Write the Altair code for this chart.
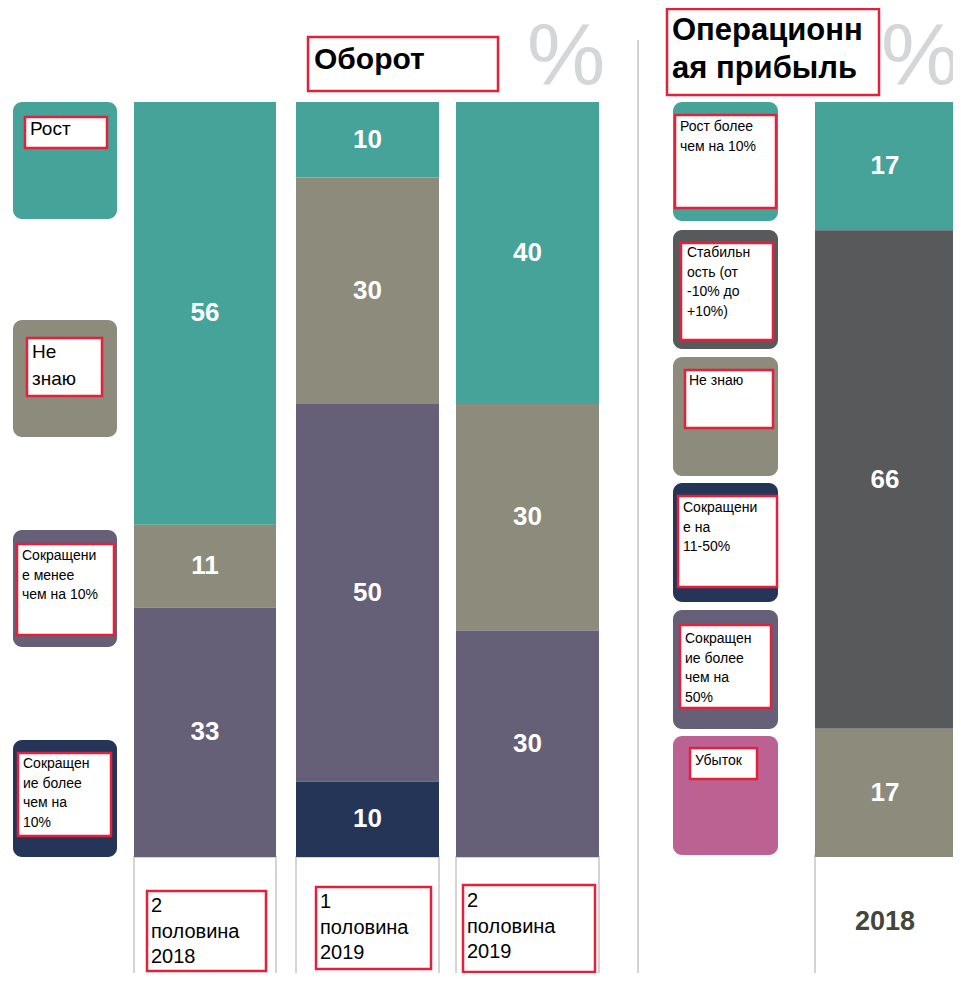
import altair as alt
import pandas as pd

# ---------------- data ----------------
turnover_periods = ["2\nполовина\n2018", "1\nполовина\n2019", "2\nполовина\n2019"]
turnover_categories = ["Рост", "Не знаю", "Сокращение менее чем на 10%", "Сокращение более чем на 10%"]
turnover_legend_text = ["Рост", "Не\nзнаю", "Сокращени\nе менее\nчем на 10%", "Сокращен\nие более\nчем на\n10%"]
turnover_growth = [56, 10, 40]
turnover_dont_know = [11, 30, 30]
turnover_down_small = [33, 50, 30]
turnover_down_big = [0, 10, 0]

profit_periods = ["2018"]
profit_categories = ["Рост более чем на 10%", "Стабильность (от -10% до +10%)", "Не знаю",
                     "Сокращение на 11-50%", "Сокращение более чем на 50%", "Убыток"]
profit_legend_text = ["Рост более\nчем на 10%", "Стабильн\nость (от\n-10% до\n+10%)", "Не знаю",
                      "Сокращени\nе на\n11-50%", "Сокращен\nие более\nчем на\n50%", "Убыток"]
profit_values = [17, 66, 17, 0, 0, 0]

title_turnover = "Оборот"
title_profit = "Операционн\nая прибыль"

# ---------------- styles / layout ----------------
W, H = 945, 965
TEAL, GREY, PURPLE, NAVY, DARK, PINK = "#45A39A", "#8D8B7C", "#655F77", "#243557", "#58595B", "#BB6293"
RED = "#E4213B"
FONT = "Liberation Sans"
turnover_colors = [TEAL, GREY, PURPLE, NAVY]
profit_colors = [TEAL, DARK, GREY, NAVY, PURPLE, PINK]

XS = alt.Scale(domain=[0, W], range=[0, W], nice=False, zero=False)
YS = alt.Scale(domain=[0, H], range=[0, H], nice=False, zero=False)
PS = alt.Scale(domain=[0, 100], range=[849, 94], nice=False, zero=False)

bar_x = {"turnover": [(126, 268), (288, 431), (448, 591)], "profit": [(807, 947)]}

# bars
rows = []
t_series = [turnover_growth, turnover_dont_know, turnover_down_small, turnover_down_big]
for pi, p in enumerate(turnover_periods):
    for ci, c in enumerate(turnover_categories):
        x0, x1 = bar_x["turnover"][pi]
        rows.append(dict(period="T" + str(pi), cat=c, value=t_series[ci][pi], idx=ci,
                         color=turnover_colors[ci], x0=x0, x1=x1))
for pi, p in enumerate(profit_periods):
    for ci, c in enumerate(profit_categories):
        x0, x1 = bar_x["profit"][pi]
        rows.append(dict(period="P" + str(pi), cat=c, value=profit_values[ci], idx=ci,
                         color=profit_colors[ci], x0=x0, x1=x1))
bars_df = pd.DataFrame(rows)

# legend tiles
tiles = []
for i, t in enumerate(turnover_legend_text):
    tiles.append(dict(x=5, x2=109, y=[94, 312, 522, 732][i], y2=[94, 312, 522, 732][i] + 117,
                      color=turnover_colors[i]))
for i, t in enumerate(profit_legend_text):
    top = [94, 222, 349, 475, 602, 728][i]
    tiles.append(dict(x=665, x2=770, y=top, y2=top + 119, color=profit_colors[i]))
tiles_df = pd.DataFrame(tiles)

boxes = pd.DataFrame([
    # legend label boxes (left)
    dict(x=17, x2=99, y=109, y2=140), dict(x=19, x2=94, y=330, y2=388),
    dict(x=9, x2=106, y=536, y2=627), dict(x=10, x2=103, y=745, y2=828),
    # legend label boxes (right)
    dict(x=667, x2=768, y=107, y2=200), dict(x=673, x2=765, y=235, y2=332),
    dict(x=677, x2=765, y=362, y2=420), dict(x=670, x2=769, y=488, y2=579),
    dict(x=672, x2=763, y=617, y2=700), dict(x=682, x2=749, y=740, y2=771),
    # titles
    dict(x=300, x2=490, y=29, y2=83), dict(x=659, x2=871, y=1, y2=87),
    # period boxes
    dict(x=139, x2=258, y=883, y2=963), dict(x=308, x2=423, y=879, y2=961),
    dict(x=455, x2=587, y=877, y2=964),
])

big_leg = pd.DataFrame([dict(x=22, y=112, t=turnover_legend_text[0]),
                        dict(x=24, y=335, t=turnover_legend_text[1])])
small_leg = pd.DataFrame([
    dict(x=14, y=541, t=turnover_legend_text[2]), dict(x=15, y=749, t=turnover_legend_text[3]),
    dict(x=672, y=112, t=profit_legend_text[0]), dict(x=679, y=238, t=profit_legend_text[1]),
    dict(x=681, y=366, t=profit_legend_text[2]), dict(x=675, y=493, t=profit_legend_text[3]),
    dict(x=677, y=624, t=profit_legend_text[4]), dict(x=687, y=746, t=profit_legend_text[5]),
])
period_text = pd.DataFrame([dict(x=143, y=888, t=turnover_periods[0]),
                            dict(x=312, y=884, t=turnover_periods[1]),
                            dict(x=459, y=883, t=turnover_periods[2])])
gray_boxes = pd.DataFrame([dict(x=a, x2=b, y=849, y2=1010) for a, b in bar_x["turnover"]] +
                          [dict(x=807, x2=947, y=847, y2=1010)])

def px(df):
    return alt.Chart(df)

enc_rect = dict(x=alt.X("x:Q", scale=XS, axis=None), x2="x2:Q",
                y=alt.Y("y:Q", scale=YS, axis=None), y2="y2:Q")

sep = px(pd.DataFrame([dict(x=630, y=32, y2=1010)])).mark_rule(color="#D3D3D3", strokeWidth=2).encode(
    x=alt.X("x:Q", scale=XS, axis=None), y=alt.Y("y:Q", scale=YS, axis=None), y2="y2:Q")

pct = px(pd.DataFrame([dict(x=558, y=50, t="%"), dict(x=912, y=50, t="%")])).mark_text(
    font=FONT, fontSize=88, color="#D5D6D8", align="center", baseline="middle").encode(
    x=alt.X("x:Q", scale=XS, axis=None), y=alt.Y("y:Q", scale=YS, axis=None), text="t:N")

tiles_l = px(tiles_df).mark_rect(cornerRadius=9).encode(
    color=alt.Color("color:N", scale=None), **enc_rect)

boxes_l = px(boxes).mark_rect(fill="white", stroke=RED, strokeWidth=2.5).encode(**enc_rect)
gray_l = px(gray_boxes).mark_rect(fill="white", stroke="#D4D4D4", strokeWidth=2).encode(**enc_rect)

def text_layer(df, **kw):
    return px(df).mark_text(font=FONT, align="left", baseline="top", lineBreak="\n", color="black", **kw).encode(
        x=alt.X("x:Q", scale=XS, axis=None), y=alt.Y("y:Q", scale=YS, axis=None), text="t:N")

big_l = text_layer(big_leg, fontSize=19, lineHeight=27)
small_l = text_layer(small_leg, fontSize=14, lineHeight=19.5)
period_l = text_layer(period_text, fontSize=20, lineHeight=25.5)
t1 = text_layer(pd.DataFrame([dict(x=306, y=37, t=title_turnover)]), fontSize=30, fontWeight="bold")
t2 = text_layer(pd.DataFrame([dict(x=664, y=8, t=title_profit)]), fontSize=31, fontWeight="bold", lineHeight=38)
yr = px(pd.DataFrame([dict(x=877, y=914, t=profit_periods[0])])).mark_text(
    font=FONT, fontSize=27, fontWeight="bold", color="#45463A", align="center", baseline="middle").encode(
    x=alt.X("x:Q", scale=XS, axis=None), y=alt.Y("y:Q", scale=YS, axis=None), text="t:N")

stacked = alt.Chart(bars_df).transform_stack(
    stack="value", groupby=["period"], as_=["v0", "v1"],
    sort=[alt.SortField("idx", order="descending")])
bars_l = stacked.mark_rect().encode(
    x=alt.X("x0:Q", scale=XS, axis=None), x2="x1:Q",
    y=alt.Y("v0:Q", scale=PS, axis=None), y2="v1:Q",
    color=alt.Color("color:N", scale=None))
labels_l = stacked.transform_filter("datum.value > 0").transform_calculate(
    xm="(datum.x0 + datum.x1) / 2", vm="(datum.v0 + datum.v1) / 2").mark_text(
    font=FONT, fontSize=26, fontWeight="bold", color="white", align="center", baseline="middle").encode(
    x=alt.X("xm:Q", scale=XS, axis=None), y=alt.Y("vm:Q", scale=PS, axis=None), text="value:Q")

chart = alt.layer(
    sep, pct, tiles_l, gray_l, boxes_l, big_l, small_l, period_l, t1, t2, yr, bars_l, labels_l
).resolve_scale(x="independent", y="independent").properties(
    width=W, height=H, autosize=alt.AutoSizeParams(type="none"), padding=0
).configure_view(stroke=None)

chart.save("out.html", embed_options={"renderer": "svg", "actions": False})
